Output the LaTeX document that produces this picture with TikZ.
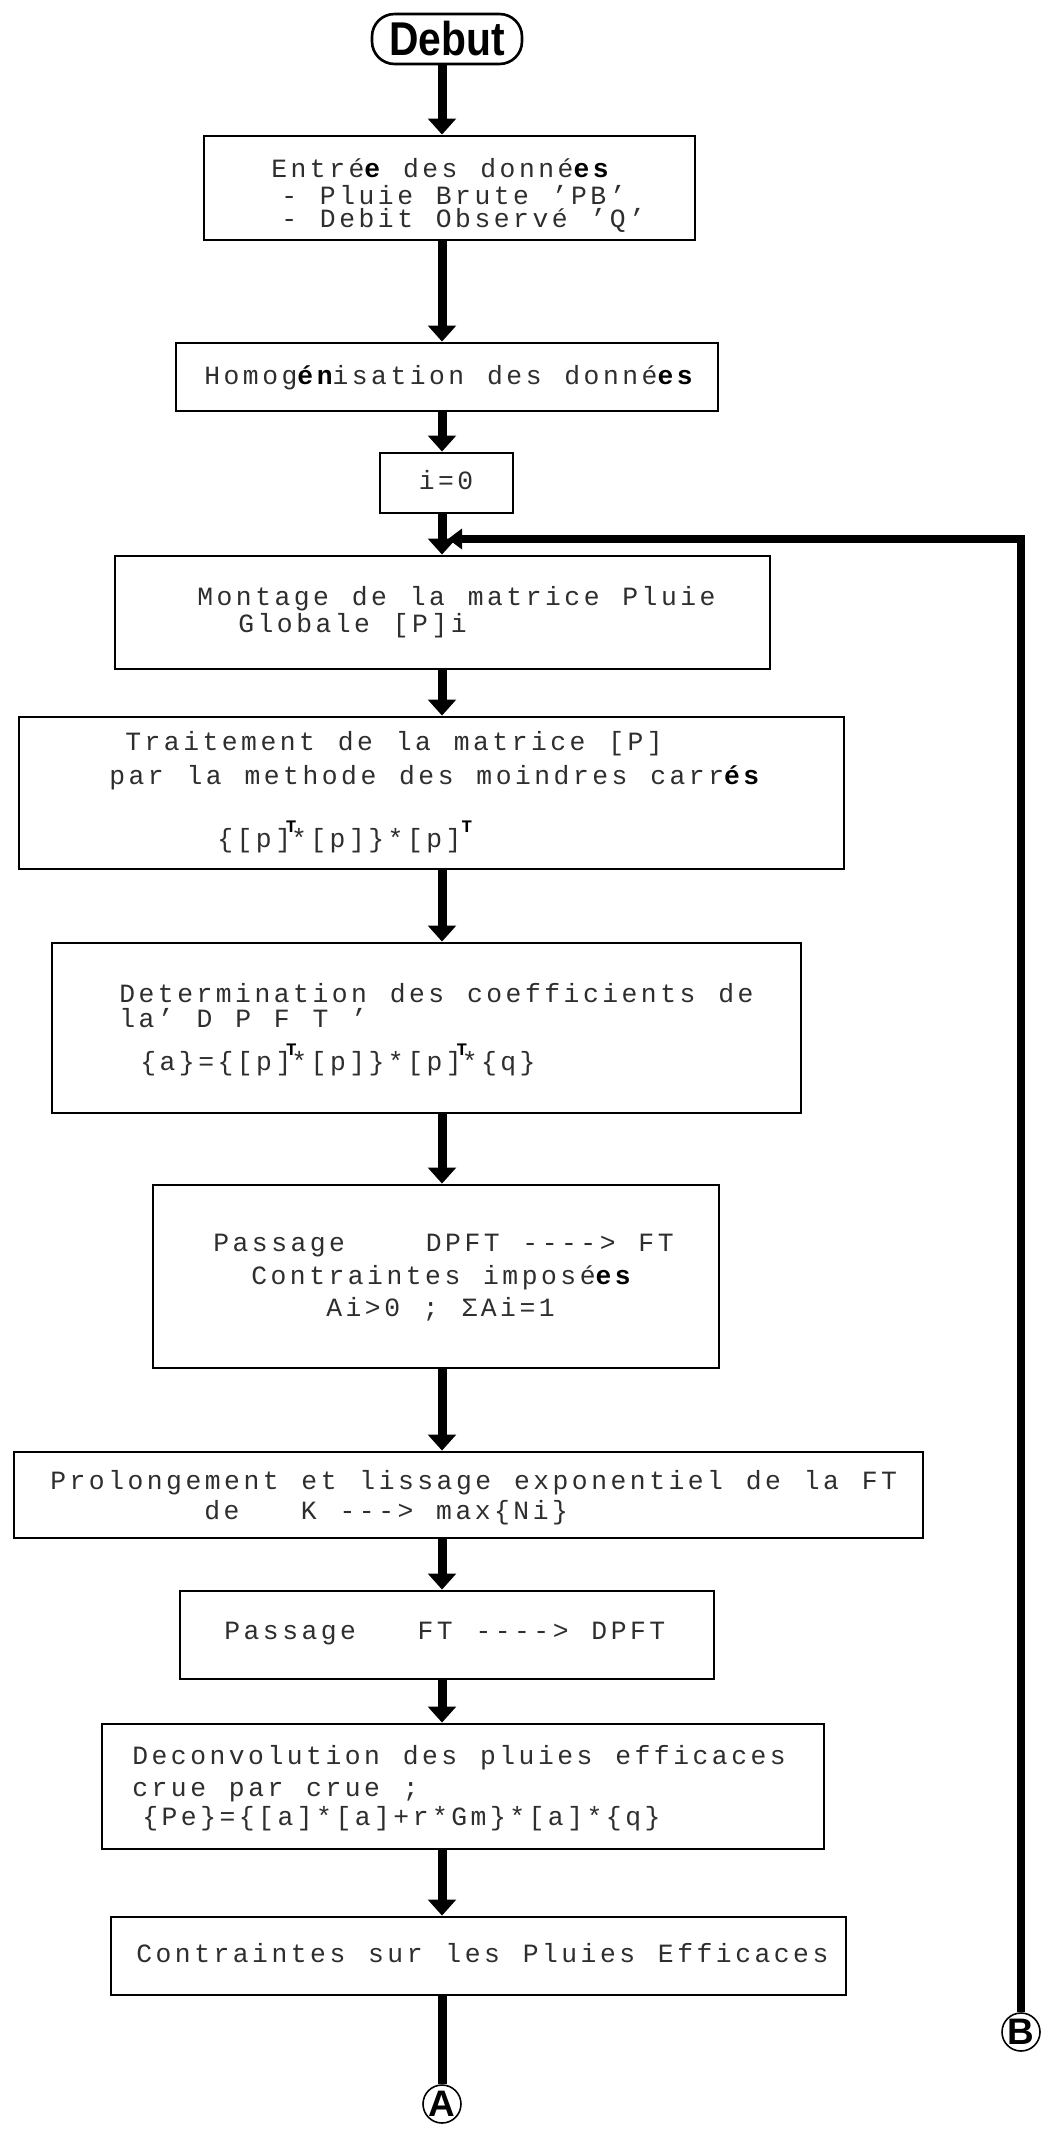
\documentclass[tikz,border=0pt]{standalone}
\usepackage{fontspec}
\setmainfont{Liberation Serif}
\newfontfamily\dotfont[LetterSpace=13.3,Ligatures=TeXOff]{Liberation Mono}
\newfontfamily\headfont{Liberation Sans}
\usetikzlibrary{arrows.meta,fit}
\newlength\pitch
\setlength\pitch{11pt}
\newlength\lsp
\setlength\lsp{2pt}
\newcommand\dotset{\dotfont\fontsize{15}{17}\selectfont\spaceskip=\dimexpr\pitch+\lsp\relax}
\newcommand\sk[1]{\hspace*{\dimexpr#1\pitch+\lsp\relax}}
\newcommand\bk[1]{{\color{black}\bfseries #1}}
\newcommand\tsup{\makebox[0pt][c]{\raisebox{0.55em}[0pt][0pt]{\color{black}\bfseries\fontsize{10}{10}\selectfont T}}}
\newcommand\tsupr{\makebox[0pt][l]{\raisebox{0.55em}[0pt][0pt]{\color{black}\bfseries\fontsize{10}{10}\selectfont T}}}
\begin{document}
\begin{tikzpicture}[x=0.02cm,y=-0.02cm,
  box/.style={draw=black, line width=1.6pt, inner sep=0pt},
  txt/.style={anchor=base west, inner sep=0pt, text=black!82, font=\dotset},
  ctxt/.style={txt, anchor=base},
  conn/.style={line width=0.18cm, -{Triangle[width=0.55cm,length=0.32cm]}},
  plainconn/.style={line width=0.18cm},
  loopline/.style={line width=0.15cm},
  circ/.style={circle, draw, line width=0.9pt, minimum size=0.76cm, inner sep=0pt, font=\headfont\bfseries\fontsize{21}{21}\selectfont},
  startbox/.style={draw, line width=1.5pt, rounded corners=0.45cm, minimum width=3cm, minimum height=1cm, inner sep=0pt}]
\fill[white] (0,0) rectangle (1041,2129);
\useasboundingbox (0,0) rectangle (1041,2129);

\coordinate (ax) at (442,0);

% start
\node[startbox] (debut) at (447,39) {\headfont\bfseries\fontsize{27}{27}\selectfont\scalebox{0.86}[1]{Debut}};

% boxes
\node[box, fit={(204,136) (695,240)}] (b1) {};
\node[box, fit={(176,343) (718,411)}] (b2) {};
\node[box, fit={(380,453) (513,513)}] (b3) {};
\node[box, fit={(115,556) (770,669)}] (b4) {};
\node[box, fit={(19,717) (844,869)}] (b5) {};
\node[box, fit={(52,943) (801,1113)}] (b6) {};
\node[box, fit={(153,1185) (719,1368)}] (b7) {};
\node[box, fit={(14,1452) (923,1538)}] (b8) {};
\node[box, fit={(180,1591) (714,1679)}] (b9) {};
\node[box, fit={(102,1724) (824,1849)}] (b10) {};
\node[box, fit={(111,1917) (846,1995)}] (b11) {};

% connector circles
\node[circ] (A) at (442,2104) {A};
\node[circ] (B) at (1021,2032) {B};

% texts
\node[txt] (t1a) at (271,178) {Entré\bk{e} des donné\bk{es}};
\node[txt] (t1b) at (281,205) {- Pluie Brute ’PB’};
\node[txt] (t1c) at (281,228) {- Debit Observé ’Q’};

\node[txt] (t2) at (204,384) {Homog\bk{én}isation des donné\bk{es}};

\node[ctxt] (t3) at (446,489) {i=0};

\node[txt] (t4a) at (197,605) {Montage de la matrice Pluie};
\node[txt] (t4b) at (238,632) {Globale [P]i};

\node[txt] (t5a) at (125,750) {Traitement de la matrice [P]};
\node[txt] (t5b) at (109,784) {par la methode des moindres carr\bk{és}};
\node[txt] (t5c) at (217,847) {\{[p]\tsup*[p]\}*[p]\tsupr};

\node[txt] (t6a) at (119,1002) {Determination des coefficients de};
\node[txt] (t6b) at (119,1027) {la’ D P F T ’};
\node[txt] (t6c) at (140,1070) {\{a\}=\{[p]\tsup*[p]\}*[p]\tsup*\{q\}};

\node[txt] (t7a) at (213,1251) {Passage\sk{4}DPFT ----> FT};
\node[txt] (t7b) at (251,1284) {Contraintes imposé\bk{es}};
\node[txt] (t7c) at (326,1316) {Ai>0 ; ΣAi=1};

\node[txt] (t8a) at (50,1489) {Prolongement et lissage exponentiel de la FT};
\node[txt] (t8b) at (204,1519) {de\sk{3}K ---> max\{Ni\}};

\node[txt] (t9) at (224,1639) {Passage\sk{3}FT ----> DPFT};

\node[txt] (t10a) at (132,1764) {Deconvolution des pluies efficaces};
\node[txt] (t10b) at (132,1796) {crue par crue ;};
\node[txt] (t10c) at (142,1825) {\{Pe\}=\{[a]*[a]+r*Gm\}*[a]*\{q\}};

\node[txt] (t11) at (136,1962) {Contraintes sur les Pluies Efficaces};

% connectors
\draw[conn] (debut.south -| ax) -- (b1.north -| ax);
\draw[conn] (b1.south -| ax) -- (b2.north -| ax);
\draw[conn] (b2.south -| ax) -- (b3.north -| ax);
\draw[conn] (b3.south -| ax) -- (b4.north -| ax);
\draw[conn] (b4.south -| ax) -- (b5.north -| ax);
\draw[conn] (b5.south -| ax) -- (b6.north -| ax);
\draw[conn] (b6.south -| ax) -- (b7.north -| ax);
\draw[conn] (b7.south -| ax) -- (b8.north -| ax);
\draw[conn] (b8.south -| ax) -- (b9.north -| ax);
\draw[conn] (b9.south -| ax) -- (b10.north -| ax);
\draw[conn] (b10.south -| ax) -- (b11.north -| ax);
\draw[plainconn] (b11.south -| ax) -- (A.north);

% loop back
\coordinate (J) at (448,539);
\draw[loopline, -{Triangle[width=0.4cm,length=0.28cm]}] (B.north) |- (J);
\end{tikzpicture}
\end{document}
